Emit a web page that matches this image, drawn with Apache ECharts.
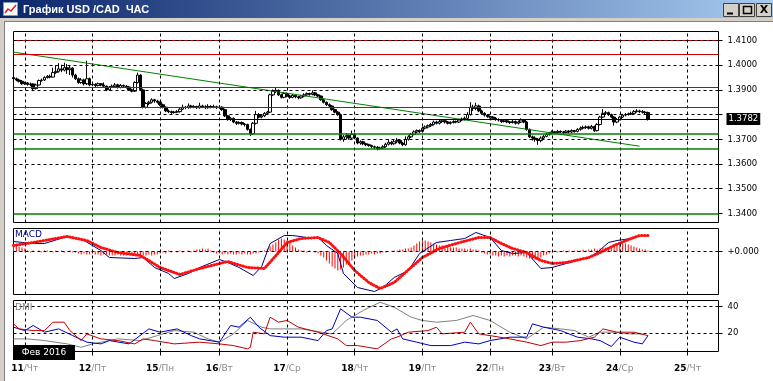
<!DOCTYPE html>
<html><head><meta charset="utf-8">
<script src="https://cdn.jsdelivr.net/npm/echarts@6/dist/echarts.min.js"></script>
<style>html,body{margin:0;padding:0;background:#fff;}#c{width:773px;height:381px;}</style>
</head><body><div id="c"></div>
<script>
// ---------- DATA ----------
const dayStarts = [4, 28, 52, 73, 97, 121, 145, 169, 191, 215, 239];
const dayNums = ['11','12','15','16','17','18','19','22','23','24','25'];
const dayNames = ['Чт','Пт','Пн','Вт','Ср','Чт','Пт','Пн','Вт','Ср','Чт'];
const priceTicks = [1.34, 1.35, 1.36, 1.37, 1.38, 1.39, 1.40, 1.41];
const priceLabels = [1.34, 1.35, 1.36, 1.37, 1.39, 1.40, 1.41];
const redLevels = [1.4100, 1.4046, 1.3911, 1.3830];
const greenLevels = [1.3722, 1.3662, 1.3400];
const lastPrice = 1.3782;
const trendLine = [[0, 1.4053], [222, 1.3672]];
// [open, close, low, high] per hourly bar
const ohlc = [
[1.3950,1.3945,1.3938,1.3956],[1.3945,1.3940,1.3935,1.3950],[1.3940,1.3935,1.3930,1.3945],[1.3935,1.3925,1.3920,1.3940],
[1.3925,1.3928,1.3920,1.3933],[1.3928,1.3922,1.3917,1.3932],[1.3922,1.3924,1.3915,1.3930],[1.3924,1.3905,1.3895,1.3927],
[1.3905,1.3920,1.3902,1.3925],[1.3920,1.3938,1.3918,1.3942],[1.3938,1.3940,1.3933,1.3946],[1.3940,1.3950,1.3936,1.3955],
[1.3950,1.3955,1.3946,1.3960],[1.3955,1.3952,1.3947,1.3962],[1.3952,1.3970,1.3950,1.3990],[1.3970,1.3975,1.3965,1.4000],
[1.3975,1.3985,1.3970,1.4008],[1.3985,1.3980,1.3972,1.4002],[1.3980,1.3990,1.3975,1.4010],[1.3990,1.3982,1.3965,1.4005],
[1.3982,1.3988,1.3960,1.3998],[1.3988,1.3960,1.3950,1.3992],[1.3960,1.3945,1.3940,1.3965],[1.3945,1.3930,1.3925,1.3950],
[1.3930,1.3940,1.3925,1.3948],[1.3940,1.3925,1.3918,1.3945],[1.3925,1.3945,1.3920,1.4018],[1.3945,1.3920,1.3915,1.3950],
[1.3920,1.3922,1.3915,1.3928],[1.3922,1.3918,1.3912,1.3927],[1.3918,1.3925,1.3914,1.3930],[1.3925,1.3920,1.3915,1.3928],
[1.3920,1.3915,1.3910,1.3930],[1.3915,1.3900,1.3895,1.3918],[1.3900,1.3912,1.3897,1.3916],[1.3912,1.3915,1.3908,1.3922],
[1.3915,1.3920,1.3910,1.3928],[1.3920,1.3910,1.3905,1.3925],[1.3910,1.3918,1.3906,1.3924],[1.3918,1.3915,1.3910,1.3922],
[1.3915,1.3912,1.3905,1.3920],[1.3912,1.3900,1.3896,1.3916],[1.3900,1.3895,1.3890,1.3905],[1.3895,1.3930,1.3892,1.3935],
[1.3930,1.3960,1.3926,1.3970],[1.3960,1.3900,1.3895,1.3963],[1.3900,1.3830,1.3825,1.3905],[1.3830,1.3845,1.3825,1.3850],
[1.3845,1.3850,1.3838,1.3856],[1.3850,1.3860,1.3845,1.3866],[1.3860,1.3855,1.3848,1.3864],[1.3855,1.3850,1.3845,1.3860],
[1.3850,1.3840,1.3835,1.3853],[1.3840,1.3830,1.3825,1.3844],[1.3830,1.3815,1.3810,1.3833],[1.3815,1.3812,1.3806,1.3820],
[1.3812,1.3808,1.3803,1.3816],[1.3808,1.3810,1.3804,1.3815],[1.3810,1.3812,1.3806,1.3818],[1.3812,1.3822,1.3808,1.3826],
[1.3822,1.3830,1.3818,1.3840],[1.3830,1.3828,1.3822,1.3835],[1.3828,1.3835,1.3824,1.3845],[1.3835,1.3830,1.3825,1.3840],
[1.3830,1.3832,1.3826,1.3838],[1.3832,1.3828,1.3823,1.3836],[1.3828,1.3835,1.3824,1.3848],[1.3835,1.3832,1.3826,1.3840],
[1.3832,1.3828,1.3822,1.3838],[1.3828,1.3833,1.3824,1.3842],[1.3833,1.3830,1.3825,1.3838],[1.3830,1.3832,1.3826,1.3840],
[1.3832,1.3828,1.3823,1.3836],[1.3828,1.3830,1.3824,1.3838],[1.3830,1.3820,1.3815,1.3834],[1.3820,1.3795,1.3790,1.3824],
[1.3795,1.3780,1.3775,1.3798],[1.3780,1.3785,1.3774,1.3790],[1.3785,1.3770,1.3765,1.3788],[1.3770,1.3765,1.3758,1.3774],
[1.3765,1.3768,1.3760,1.3773],[1.3768,1.3762,1.3756,1.3772],[1.3762,1.3760,1.3752,1.3766],[1.3760,1.3740,1.3735,1.3763],
[1.3740,1.3722,1.3713,1.3744],[1.3722,1.3765,1.3718,1.3770],[1.3765,1.3800,1.3760,1.3815],[1.3800,1.3790,1.3785,1.3806],
[1.3790,1.3795,1.3785,1.3802],[1.3795,1.3805,1.3790,1.3810],[1.3805,1.3810,1.3798,1.3815],[1.3810,1.3880,1.3806,1.3885],
[1.3880,1.3895,1.3875,1.3902],[1.3895,1.3898,1.3888,1.3910],[1.3898,1.3880,1.3875,1.3902],[1.3880,1.3870,1.3865,1.3885],
[1.3870,1.3885,1.3866,1.3892],[1.3885,1.3875,1.3870,1.3890],[1.3875,1.3870,1.3864,1.3880],[1.3870,1.3878,1.3866,1.3884],
[1.3878,1.3872,1.3866,1.3882],[1.3872,1.3868,1.3862,1.3876],[1.3868,1.3875,1.3864,1.3880],[1.3875,1.3880,1.3870,1.3886],
[1.3880,1.3885,1.3876,1.3890],[1.3885,1.3882,1.3877,1.3889],[1.3882,1.3888,1.3878,1.3898],[1.3888,1.3880,1.3875,1.3892],
[1.3880,1.3875,1.3870,1.3884],[1.3875,1.3860,1.3856,1.3878],[1.3860,1.3850,1.3845,1.3864],[1.3850,1.3840,1.3835,1.3853],
[1.3840,1.3835,1.3830,1.3845],[1.3835,1.3820,1.3815,1.3838],[1.3820,1.3810,1.3805,1.3824],[1.3810,1.3800,1.3795,1.3814],
[1.3800,1.3700,1.3695,1.3804],[1.3700,1.3710,1.3690,1.3718],[1.3710,1.3715,1.3700,1.3725],[1.3715,1.3705,1.3698,1.3720],
[1.3705,1.3720,1.3700,1.3735],[1.3720,1.3705,1.3700,1.3725],[1.3705,1.3685,1.3680,1.3708],[1.3685,1.3690,1.3678,1.3696],
[1.3690,1.3682,1.3676,1.3694],[1.3682,1.3678,1.3672,1.3686],[1.3678,1.3675,1.3670,1.3682],[1.3675,1.3670,1.3664,1.3678],
[1.3670,1.3668,1.3662,1.3674],[1.3668,1.3662,1.3655,1.3672],[1.3662,1.3665,1.3658,1.3670],[1.3665,1.3670,1.3660,1.3676],
[1.3670,1.3680,1.3666,1.3686],[1.3680,1.3688,1.3675,1.3700],[1.3688,1.3682,1.3676,1.3694],[1.3682,1.3690,1.3678,1.3698],
[1.3690,1.3695,1.3684,1.3705],[1.3695,1.3685,1.3680,1.3700],[1.3685,1.3678,1.3672,1.3690],[1.3678,1.3700,1.3674,1.3712],
[1.3700,1.3710,1.3695,1.3716],[1.3710,1.3720,1.3705,1.3726],[1.3720,1.3730,1.3716,1.3736],[1.3730,1.3735,1.3725,1.3740],
[1.3735,1.3732,1.3726,1.3740],[1.3732,1.3745,1.3728,1.3750],[1.3745,1.3750,1.3740,1.3756],[1.3750,1.3755,1.3744,1.3760],
[1.3755,1.3760,1.3750,1.3766],[1.3760,1.3770,1.3756,1.3776],[1.3770,1.3765,1.3760,1.3775],[1.3765,1.3772,1.3760,1.3778],
[1.3772,1.3775,1.3766,1.3780],[1.3775,1.3770,1.3764,1.3779],[1.3770,1.3765,1.3760,1.3774],[1.3765,1.3768,1.3760,1.3773],
[1.3768,1.3772,1.3764,1.3777],[1.3772,1.3770,1.3765,1.3776],[1.3770,1.3778,1.3766,1.3783],[1.3778,1.3782,1.3773,1.3788],
[1.3782,1.3785,1.3776,1.3792],[1.3785,1.3800,1.3780,1.3810],[1.3800,1.3830,1.3796,1.3850],[1.3830,1.3825,1.3815,1.3840],
[1.3825,1.3835,1.3818,1.3848],[1.3835,1.3815,1.3810,1.3840],[1.3815,1.3805,1.3800,1.3820],[1.3805,1.3798,1.3792,1.3810],
[1.3798,1.3792,1.3787,1.3802],[1.3792,1.3790,1.3784,1.3797],[1.3790,1.3785,1.3780,1.3794],[1.3785,1.3780,1.3775,1.3790],
[1.3780,1.3778,1.3772,1.3785],[1.3778,1.3772,1.3766,1.3782],[1.3772,1.3775,1.3768,1.3780],[1.3775,1.3770,1.3765,1.3779],
[1.3770,1.3768,1.3762,1.3774],[1.3768,1.3772,1.3764,1.3778],[1.3772,1.3765,1.3760,1.3776],[1.3765,1.3770,1.3760,1.3776],
[1.3770,1.3778,1.3766,1.3785],[1.3778,1.3770,1.3765,1.3782],[1.3770,1.3740,1.3735,1.3774],[1.3740,1.3710,1.3705,1.3744],
[1.3710,1.3705,1.3695,1.3715],[1.3705,1.3700,1.3690,1.3712],[1.3700,1.3695,1.3678,1.3705],[1.3695,1.3705,1.3688,1.3712],
[1.3705,1.3712,1.3700,1.3718],[1.3712,1.3720,1.3708,1.3726],[1.3720,1.3725,1.3715,1.3730],[1.3725,1.3730,1.3720,1.3736],
[1.3730,1.3728,1.3722,1.3734],[1.3728,1.3732,1.3724,1.3738],[1.3732,1.3730,1.3725,1.3736],[1.3730,1.3728,1.3722,1.3734],
[1.3728,1.3733,1.3724,1.3738],[1.3733,1.3730,1.3725,1.3737],[1.3730,1.3735,1.3726,1.3740],[1.3735,1.3732,1.3727,1.3738],
[1.3732,1.3740,1.3728,1.3745],[1.3740,1.3745,1.3735,1.3752],[1.3745,1.3748,1.3740,1.3755],[1.3748,1.3750,1.3742,1.3756],
[1.3750,1.3745,1.3740,1.3755],[1.3745,1.3752,1.3740,1.3758],[1.3752,1.3735,1.3730,1.3755],[1.3735,1.3760,1.3732,1.3765],
[1.3760,1.3790,1.3756,1.3795],[1.3790,1.3805,1.3786,1.3822],[1.3805,1.3808,1.3798,1.3815],[1.3808,1.3800,1.3795,1.3812],
[1.3800,1.3790,1.3785,1.3804],[1.3790,1.3770,1.3755,1.3794],[1.3770,1.3780,1.3765,1.3786],[1.3780,1.3790,1.3776,1.3795],
[1.3790,1.3798,1.3786,1.3803],[1.3798,1.3800,1.3793,1.3806],[1.3800,1.3803,1.3796,1.3808],[1.3803,1.3805,1.3798,1.3812],
[1.3805,1.3812,1.3800,1.3818],[1.3812,1.3815,1.3808,1.3822],[1.3815,1.3812,1.3806,1.3820],[1.3812,1.3810,1.3804,1.3818],
[1.3810,1.3808,1.3802,1.3815],[1.3808,1.3782,1.3776,1.3812]
];
const macdHist = [
0.0005,0.0006,0.0005,0.0004,0.0003,
0.0001,-0.0001,0.0001,0,0.0001,-0.0001,0.0001,0.0001,0,-0.0001,0.0001,0,0.0001,-0.0001,0,0.0001,-0.0001,-0.0001,
-0.0002,-0.0003,-0.0002,-0.0003,-0.0003,-0.0002,-0.0003,-0.0003,-0.0004,-0.0003,-0.0003,-0.0004,
-0.0004,-0.0004,-0.0003,-0.0004,-0.0004,-0.0004,-0.0003,-0.0004,-0.0004,-0.0003,-0.0004,-0.0004,-0.0004,-0.0003,-0.0004,-0.0003,-0.0003,-0.0002,
-0.0001,-0.0002,0.0001,-0.0001,0,-0.0001,0.0001,-0.0001,0,0.0001,-0.0001,0.0001,0.0002,
0.0002,0.0003,0.0002,0.0003,0.0001,
-0.0001,-0.0002,-0.0002,-0.0003,-0.0002,-0.0003,-0.0002,-0.0003,-0.0003,-0.0002,-0.0003,-0.0002,-0.0003,-0.0003,-0.0002,-0.0002,-0.0001,
0,0.0001,0.0003,0.0005,0.0007,
0.0009,0.0012,0.0013,0.0012,0.0011,0.0009,0.0006,0.0004,
0.0002,0.0001,0.0001,-0.0001,0.0001,0,-0.0001,
-0.0002,-0.0004,-0.0006,-0.0009,-0.0012,-0.0015,-0.0017,-0.0019,-0.0018,-0.0016,-0.0013,-0.0011,-0.0009,-0.0007,
-0.0005,-0.0004,-0.0004,-0.0003,-0.0003,-0.0002,-0.0003,-0.0002,-0.0002,-0.0001,-0.0001,0,
0,0.0001,0.0001,0.0002,0.0002,0.0003,0.0003,
0.0004,0.0006,0.0008,0.0010,0.0011,0.0011,0.0010,0.0009,0.0008,0.0007,
0.0006,0.0006,0.0005,0.0005,0.0004,0.0004,0.0004,0.0003,0.0003,0.0003,0.0002,0.0003,0.0002,0.0002,0.0001,
-0.0001,-0.0002,-0.0003,-0.0003,-0.0004,-0.0004,-0.0005,-0.0004,-0.0005,-0.0004,-0.0005,-0.0004,-0.0004,-0.0005,-0.0004,
-0.0005,-0.0006,-0.0007,-0.0008,-0.0008,-0.0007,-0.0006,-0.0004,-0.0003,-0.0002,
-0.0001,0.0001,-0.0001,0,0.0001,-0.0001,0.0001,0,0.0001,0.0001,0.0001,0.0002,0.0001,
0.0002,0.0002,0.0003,0.0002,0.0003,0.0004,0.0004,0.0003,0.0004,
0.0005,0.0006,0.0007,0.0008,0.0008,0.0007,0.0006,0.0005,0.0004,0.0003,
0.0002,0.0002,0.0001
];
const macdLine = [[0,0.0010],[7,0.0008],[11,0.0008],[19,0.0015],[25,0.0011],[31,0.0001],[34,-0.0006],[43,-0.0007],[46,-0.0006],[50,-0.0016],[55,-0.0022],[57,-0.0027],[62,-0.0022],[66,-0.0016],[73,-0.0008],[76,-0.0011],[80,-0.0016],[85,-0.0024],[88,-0.0015],[91,0.0008],[96,0.0016],[99,0.0016],[104,0.0014],[108,0.0014],[111,0.0006],[115,-0.0002],[117,-0.0022],[122,-0.0036],[128,-0.0040],[131,-0.0036],[135,-0.0026],[140,-0.0019],[144,-0.0002],[150,0.0009],[155,0.0011],[160,0.0013],[164,0.0019],[169,0.0014],[173,0.0001],[177,-0.0002],[182,-0.0001],[187,-0.0017],[191,-0.0016],[196,-0.0012],[204,-0.0006],[207,-0.0001],[211,0.0009],[214,0.0011],[219,0.0013],[222,0.0016],[225,0.0016]];
const signalLine = [[0,0.0006],[7,0.0009],[19,0.0015],[26,0.0011],[31,0.0004],[37,-0.0001],[45,-0.0004],[52,-0.0016],[59,-0.0023],[66,-0.0017],[76,-0.0010],[83,-0.0016],[89,-0.0017],[94,-0.0001],[97,0.0009],[102,0.0013],[108,0.0014],[112,0.0009],[116,-0.0002],[121,-0.0019],[126,-0.0031],[130,-0.0037],[135,-0.0031],[141,-0.0016],[145,-0.0006],[151,0.0003],[157,0.0008],[165,0.0014],[169,0.0014],[173,0.0008],[177,0.0003],[182,-0.0001],[187,-0.0009],[191,-0.0012],[196,-0.0011],[204,-0.0006],[208,-0.0001],[213,0.0006],[219,0.0013],[222,0.0016],[225,0.0016]];
const plusDI = [[0,24.3],[4,21.7],[7,25.6],[11,20.5],[16,23.0],[21,17.9],[26,12.9],[31,11.6],[34,14.1],[41,11.6],[48,23.0],[52,20.5],[58,23.0],[63,17.9],[66,15.4],[73,12.9],[77,25.6],[80,24.3],[84,31.9],[87,24.3],[91,17.9],[96,16.7],[102,16.7],[108,14.1],[111,21.7],[113,23.0],[116,38.3],[120,31.9],[123,31.9],[129,29.4],[134,20.5],[136,23.0],[138,15.4],[143,12.9],[148,10.3],[155,10.3],[160,12.9],[165,11.6],[169,14.1],[176,16.7],[182,16.7],[184,26.8],[188,24.3],[194,21.7],[200,16.7],[205,15.4],[208,14.1],[212,9.6],[215,16.7],[220,12.9],[223,11.6],[225,17.9]];
const minusDI = [[0,26.8],[2,23.0],[7,21.7],[11,21.7],[14,28.1],[18,28.1],[20,21.7],[24,14.1],[26,19.2],[31,15.4],[37,14.1],[43,11.6],[46,15.4],[50,14.1],[57,11.6],[66,12.9],[73,11.6],[78,10.3],[83,7.8],[84,9.0],[85,20.5],[89,19.2],[91,31.9],[94,28.1],[97,29.4],[101,24.3],[108,20.5],[115,15.4],[118,10.3],[122,10.3],[129,7.8],[134,15.4],[136,16.7],[140,20.5],[147,21.7],[150,24.3],[152,19.2],[160,20.5],[162,28.1],[165,19.2],[169,17.9],[176,15.4],[182,12.9],[187,10.3],[191,12.9],[196,12.9],[201,14.1],[206,16.7],[209,23.0],[214,20.5],[220,20.5],[225,17.9]];
const adx = [[0,15.4],[5,15.4],[11,14.1],[19,11.6],[24,9.0],[28,11.6],[37,15.4],[45,14.1],[51,17.9],[57,21.7],[64,20.5],[69,15.4],[73,12.9],[78,19.2],[83,29.4],[88,24.3],[91,23.0],[102,23.0],[113,19.2],[118,29.4],[124,37.0],[130,43.3],[135,39.5],[141,31.9],[145,29.4],[150,28.1],[157,29.4],[163,33.2],[169,29.4],[176,20.5],[182,15.4],[188,24.3],[194,23.0],[199,21.7],[204,16.7],[208,20.5],[213,20.5],[218,19.2],[223,19.2]];
const macdTicks = [0];
const dmiTicks = [20, 40];

// ---------- CHART ----------
const FONT = 'DejaVu Sans';
const BAR_SLOTS = 251;
const categories = [];
for (let i = 0; i < BAR_SLOTS; i++) categories.push(String(i));
const isDay = (idx) => dayStarts.indexOf(idx) >= 0;
const DASH = { color: '#000', width: 1, type: [3, 3] };
const vLines = () => dayStarts.map(i => ({ xAxis: i, lineStyle: DASH }));
const hDash = (vals) => vals.map(v => ({ yAxis: v, lineStyle: DASH }));
const ML = (data) => ({ silent: true, precision: 6, symbol: ['none', 'none'], label: { show: false }, animation: false, data });
const dashedPriceGrid = priceTicks.filter(v => greenLevels.indexOf(v) < 0);

const gridBox = { left: 13.5, width: 705, show: true, borderColor: '#000', borderWidth: 1, backgroundColor: 'transparent' };

function xAx(k) {
  return {
    type: 'category', gridIndex: k, data: categories, boundaryGap: false,
    axisLine: { show: false },
    axisTick: { show: k === 2, interval: (i) => isDay(i), length: 4, lineStyle: { color: '#000' } },
    axisLabel: {
      show: k === 2, interval: (i) => isDay(i), margin: 13,
      formatter: (v, i) => { const n = dayStarts.indexOf(Number(v)); return n < 0 ? '' : '{n|' + dayNums[n] + '}{d|/' + dayNames[n] + '}'; },
      rich: {
        n: { fontFamily: FONT, fontSize: 9, fontWeight: 'bold', color: '#000' },
        d: { fontFamily: FONT, fontSize: 9, color: '#8a8a8a' }
      }
    },
    splitLine: { show: false }
  };
}
const yLabel = { color: '#000', fontFamily: FONT, fontSize: 8.5, margin: 9, padding: [4, 0, 0, 0] };

const option = {
  animation: false,
  backgroundColor: '#ffffff',
  grid: [
    Object.assign({ top: 31.5, height: 191 }, gridBox),
    Object.assign({ top: 228.5, height: 66 }, gridBox),
    Object.assign({ top: 300.5, height: 51 }, gridBox)
  ],
  xAxis: [xAx(0), xAx(1), xAx(2)],
  yAxis: [
    { type: 'value', gridIndex: 0, position: 'right', min: 1.33632, max: 1.41364,
      axisLine: { show: false },
      axisTick: { show: true, customValues: priceTicks, length: 4, lineStyle: { color: '#000' } },
      axisLabel: Object.assign({ customValues: priceLabels, formatter: v => Number(v).toFixed(4) }, yLabel),
      splitLine: { show: false } },
    { type: 'value', gridIndex: 1, position: 'right', min: -0.0043, max: 0.0023,
      axisLine: { show: false },
      axisTick: { show: true, customValues: macdTicks, length: 4, lineStyle: { color: '#000' } },
      axisLabel: Object.assign({ customValues: macdTicks, formatter: v => '+' + Number(v).toFixed(3) }, yLabel),
      splitLine: { show: false } },
    { type: 'value', gridIndex: 2, position: 'right', min: 5.8, max: 44.6,
      axisLine: { show: false },
      axisTick: { show: true, customValues: dmiTicks, length: 4, lineStyle: { color: '#000' } },
      axisLabel: Object.assign({ customValues: dmiTicks, formatter: v => String(v) }, yLabel),
      splitLine: { show: false } }
  ],
  series: [
    { type: 'candlestick', xAxisIndex: 0, yAxisIndex: 0, data: ohlc, barWidth: 3,
      itemStyle: { color: '#ffffff', color0: '#000000', borderColor: '#000000', borderColor0: '#000000', borderWidth: 1 },
      markLine: ML([].concat(
        hDash(dashedPriceGrid),
        vLines(),
        redLevels.map(v => ({ yAxis: v, lineStyle: { color: '#cc0000', width: 1, type: 'solid' } })),
        greenLevels.map(v => ({ yAxis: v, lineStyle: { color: '#008000', width: 1.5, type: 'solid' } })),
        [{ yAxis: 1.41, lineStyle: DASH }],
        [{ yAxis: lastPrice, lineStyle: { color: '#000', width: 1, type: 'solid' },
           label: { show: true, position: 'end', distance: 8, formatter: lastPrice.toFixed(4),
             backgroundColor: '#000', color: '#fff', fontFamily: FONT, fontSize: 8.5, padding: [2, 2, 1, 2] } }]
      )) },
    { type: 'line', xAxisIndex: 0, yAxisIndex: 0, data: trendLine, symbol: 'none',
      lineStyle: { color: '#008000', width: 1 }, z: 3 },
    { type: 'bar', xAxisIndex: 1, yAxisIndex: 1, data: macdHist, barWidth: 1,
      itemStyle: { color: '#ff0000' },
      markLine: ML([].concat(hDash(macdTicks), vLines())) },
    { type: 'line', xAxisIndex: 1, yAxisIndex: 1, data: macdLine, symbol: 'none',
      lineStyle: { color: '#000080', width: 1 } },
    { type: 'line', xAxisIndex: 1, yAxisIndex: 1, data: signalLine, symbol: 'none',
      lineStyle: { color: '#ff1010', width: 3, type: [0.5, 2.5], cap: 'round' } },
    { type: 'line', xAxisIndex: 2, yAxisIndex: 2, data: adx, symbol: 'none',
      lineStyle: { color: '#808080', width: 1 },
      markLine: ML([].concat(hDash(dmiTicks), vLines())) },
    { type: 'line', xAxisIndex: 2, yAxisIndex: 2, data: plusDI, symbol: 'none',
      lineStyle: { color: '#0000c0', width: 1 } },
    { type: 'line', xAxisIndex: 2, yAxisIndex: 2, data: minusDI, symbol: 'none',
      lineStyle: { color: '#c00000', width: 1 } }
  ],
  graphic: [
    { type: 'rect', shape: { x: 0, y: 0, width: 773, height: 18 }, z: 100,
      style: { fill: new echarts.graphic.LinearGradient(0, 0, 1, 0, [{ offset: 0, color: '#0a246a' }, { offset: 1, color: '#a6caf0' }]) } },
    { type: 'rect', shape: { x: 0, y: 18, width: 773, height: 4 }, z: 100, style: { fill: '#d4d0c8' } },
    { type: 'rect', shape: { x: 0, y: 18, width: 4, height: 363 }, z: 100, style: { fill: '#d4d0c8' } },
    { type: 'line', shape: { x1: 4.5, y1: 21, x2: 4.5, y2: 381 }, z: 100, style: { stroke: '#808080', lineWidth: 1 } },
    { type: 'line', shape: { x1: 4, y1: 21.5, x2: 773, y2: 21.5 }, z: 100, style: { stroke: '#808080', lineWidth: 1 } },
    // window icon
    { type: 'rect', shape: { x: 3.5, y: 2.5, width: 14, height: 13 }, z: 101, style: { fill: '#ffffff', stroke: '#7f9db9', lineWidth: 1 } },
    { type: 'polyline', shape: { points: [[5, 13], [8, 9], [11, 11], [16, 5]] }, z: 102, style: { stroke: '#e02020', lineWidth: 1.5, fill: null } },
    { type: 'text', x: 23, y: 10, z: 101, style: { text: 'График USD /CAD  ЧАС', fill: '#ffffff', font: 'bold 11px "Liberation Sans", Arial', verticalAlign: 'middle' } },
    // window buttons
    { type: 'rect', shape: { x: 723.5, y: 3.5, width: 15, height: 13 }, z: 101, style: { fill: '#d4d0c8', stroke: '#404040', lineWidth: 1 } },
    { type: 'rect', shape: { x: 739.5, y: 3.5, width: 15, height: 13 }, z: 101, style: { fill: '#d4d0c8', stroke: '#404040', lineWidth: 1 } },
    { type: 'rect', shape: { x: 756.5, y: 3.5, width: 15, height: 13 }, z: 101, style: { fill: '#d4d0c8', stroke: '#404040', lineWidth: 1 } },
    { type: 'line', shape: { x1: 727, y1: 13.5, x2: 733, y2: 13.5 }, z: 102, style: { stroke: '#000', lineWidth: 2 } },
    { type: 'rect', shape: { x: 743.5, y: 6.5, width: 8, height: 7 }, z: 102, style: { fill: null, stroke: '#000', lineWidth: 1.5 } },
    { type: 'text', x: 764, y: 10, z: 102, style: { text: 'X', fill: '#000', font: 'bold 11px "DejaVu Sans"', align: 'center', verticalAlign: 'middle' } },
    // panel captions
    { type: 'text', x: 15, y: 235, z: 50, style: { text: 'MACD', fill: '#000080', font: '9px "DejaVu Sans"', verticalAlign: 'middle' } },
    { type: 'text', x: 15, y: 308, z: 50, style: { text: 'DMI', fill: '#808080', font: '9px "DejaVu Sans"', verticalAlign: 'middle' } },
    { type: 'rect', shape: { x: 13, y: 345, width: 62, height: 15 }, z: 50, style: { fill: '#000' } },
    { type: 'text', x: 44, y: 352.5, z: 51, style: { text: 'Фев 2016', fill: '#fff', font: '9px "DejaVu Sans"', align: 'center', verticalAlign: 'middle' } }
  ]
};
const chart = echarts.init(document.getElementById('c'), null, { renderer: 'canvas' });
chart.setOption(option);
</script></body></html>
